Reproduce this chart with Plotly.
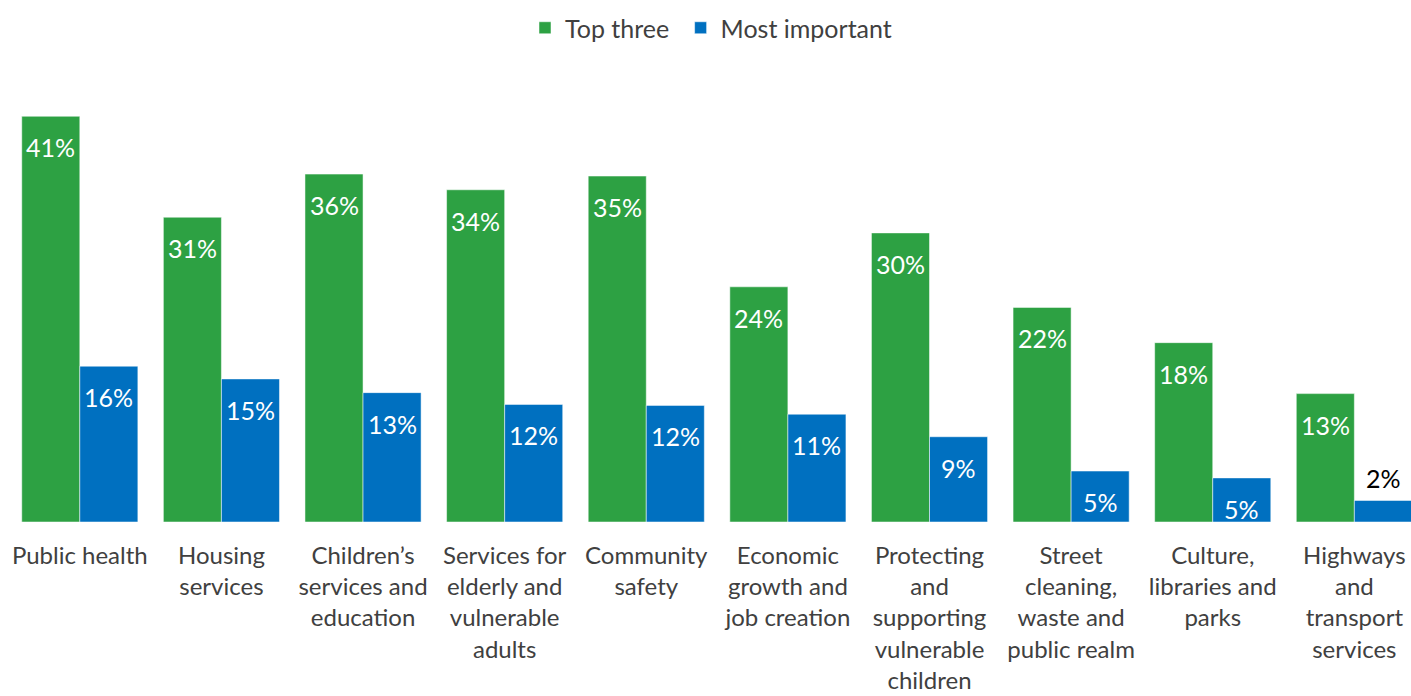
import plotly.graph_objects as go

categories = ["Public health", "Housing<br>services", "Children’s<br>services and<br>education",
              "Services for<br>elderly and<br>vulnerable<br>adults", "Community<br>safety",
              "Economic<br>growth and<br>job creation", "Protecting<br>and<br>supporting<br>vulnerable<br>children",
              "Street<br>cleaning,<br>waste and<br>public realm", "Culture,<br>libraries and<br>parks",
              "Highways<br>and<br>transport<br>services"]
top_three = [41.4, 31.1, 35.5, 33.9, 35.3, 24.0, 29.5, 21.9, 18.3, 13.1]
most_important = [15.9, 14.6, 13.2, 12.0, 11.9, 11.0, 8.7, 5.2, 4.5, 2.2]
top_three_labels = ["41%", "31%", "36%", "34%", "35%", "24%", "30%", "22%", "18%", "13%"]
most_important_labels = ["16%", "15%", "13%", "12%", "12%", "11%", "9%", "5%", "5%", "2%"]

FONT = "Lato, 'Open Sans', sans-serif"
GREEN = "#2DA143"
BLUE = "#0070C0"
BARGAP = 0.18
HALF = (1 - BARGAP) / 4  # center offset of each bar within a group

x = list(range(len(categories)))

fig = go.Figure()
fig.add_trace(go.Bar(x=x, y=top_three, name="Top three&nbsp;", marker_color=GREEN,
                     marker_line=dict(color="rgba(255,255,255,0.5)", width=1)))
fig.add_trace(go.Bar(x=x, y=most_important, name="Most important", marker_color=BLUE,
                     marker_line=dict(color="rgba(255,255,255,0.5)", width=1)))

annotations = []
for i, (v, t) in enumerate(zip(top_three, top_three_labels)):
    annotations.append(dict(x=i - HALF, y=v, text=t, showarrow=False, xref="x", yref="y",
                            yanchor="middle", yshift=-31,
                            font=dict(color="white", size=25, family=FONT)))
for i, (v, t) in enumerate(zip(most_important, most_important_labels)):
    inside = v >= 3
    annotations.append(dict(x=i + HALF, y=v, text=t, showarrow=False, xref="x", yref="y",
                            yanchor="middle", yshift=-31 if inside else 22,
                            font=dict(color="white" if inside else "black", size=25, family=FONT)))

fig.update_layout(
    width=1411, height=696,
    barmode="group", bargap=BARGAP, bargroupgap=0,
    plot_bgcolor="white", paper_bgcolor="white",
    margin=dict(l=9, r=0, t=81, b=174),
    font=dict(family=FONT, size=24, color="#404040"),
    legend=dict(orientation="h", x=525 / 1411, xanchor="left", xref="container",
                y=1 - 28 / 696, yanchor="middle", yref="container",
                font=dict(size=25, color="#404040"), itemclick=False),
    xaxis=dict(tickmode="array", tickvals=x, ticktext=categories,
               range=[-0.5, 9.4], showgrid=False, zeroline=False, showline=False,
               ticks="", ticklabelstandoff=17, tickfont=dict(size=24, color="#404040")),
    yaxis=dict(range=[0, 45], visible=False),
    annotations=annotations,
)

fig.write_html("out.html")
